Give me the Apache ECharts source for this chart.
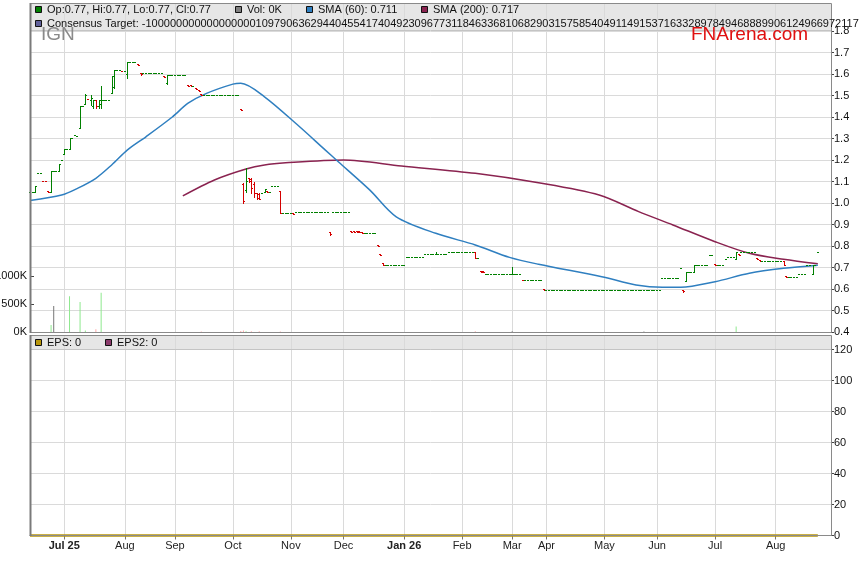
<!DOCTYPE html>
<html><head><meta charset="utf-8">
<script src="https://cdn.jsdelivr.net/npm/echarts@6/dist/echarts.min.js"></script>
<style>html,body{margin:0;padding:0;background:#fff}#c{width:859px;height:566px}</style>
</head><body><div id="c"></div>
<script>
// ---------- DATA ----------
const monthIdx = [13,36,55,77,99,119,142,164,183,196,218,238,260,283];
const monthLabels = ['Jul 25','Aug','Sep','Oct','Nov','Dec','Jan 26','Feb','Mar','Apr','May','Jun','Jul','Aug'];
const categoryCount = 305;

// daily closes (trading-day index 0..299)
const closes = [
 1.05,1.05,1.08,1.14,1.14,1.10,1.10,1.05,1.15,1.15,
 1.15,1.18,1.20,1.25,1.25,1.30,1.30,1.315,1.31,1.45,
 1.45,1.50,1.482,1.49,1.48,1.45,1.48,1.48,1.48,1.48,
 1.48,1.59,1.62,1.62,1.62,1.612,1.612,1.656,1.656,1.656,
 1.656,1.642,1.60,1.603,1.603,1.603,1.603,1.603,1.603,1.603,
 1.603,1.587,1.595,1.595,1.595,1.595,1.595,1.595,1.595,1.595,
 1.544,1.544,1.544,1.53,1.52,1.502,1.502,1.502,1.502,1.502,
 1.502,1.502,1.502,1.502,1.502,1.502,1.502,1.502,1.502,1.502,
 1.431,1.01,1.10,1.10,1.071,1.045,1.025,1.02,1.045,1.064,
 1.05,1.05,1.078,1.078,1.078,0.952,0.952,0.952,0.952,0.955,
 0.95,0.957,0.957,0.957,0.957,0.957,0.957,0.957,0.957,0.957,
 0.957,0.957,0.957,0.957,0.855,0.957,0.957,0.957,0.957,0.957,
 0.957,0.957,0.865,0.865,0.865,0.865,0.86,0.86,0.86,0.86,
 0.86,0.86,0.80,0.757,0.71,0.71,0.71,0.71,0.71,0.71,
 0.71,0.71,0.71,0.747,0.747,0.747,0.747,0.747,0.747,0.747,
 0.761,0.761,0.761,0.761,0.761,0.761,0.761,0.761,0.761,0.772,
 0.772,0.772,0.772,0.772,0.772,0.772,0.772,0.772,0.772,0.746,
 0.746,0.679,0.679,0.668,0.668,0.668,0.668,0.668,0.668,0.668,
 0.668,0.668,0.668,0.668,0.668,0.668,0.668,0.64,0.64,0.64,
 0.64,0.64,0.64,0.64,0.64,0.595,0.595,0.595,0.595,0.595,
 0.595,0.595,0.595,0.595,0.595,0.595,0.595,0.595,0.595,0.595,
 0.595,0.595,0.595,0.595,0.595,0.595,0.595,0.595,0.595,0.595,
 0.595,0.595,0.595,0.595,0.595,0.595,0.595,0.595,0.595,0.595,
 0.595,0.595,0.595,0.595,0.595,0.595,0.595,0.595,0.595,0.595,
 0.65,0.65,0.65,0.65,0.65,0.65,0.65,0.70,0.59,0.68,
 0.68,0.68,0.71,0.71,0.71,0.71,0.71,0.71,0.76,0.76,
 0.71,0.71,0.71,0.71,0.74,0.747,0.747,0.747,0.77,0.76,
 0.77,0.77,0.77,0.77,0.77,0.77,0.74,0.73,0.73,0.73,
 0.73,0.73,0.73,0.73,0.73,0.73,0.712,0.658,0.658,0.658,
 0.658,0.658,0.668,0.668,0.668,0.71,0.71,0.71,0.71,0.77
];

// days whose open/high/low differ from the close: [index, open, high, low]
const barRanges = [
 [2,1.05,1.08,1.05],[5,1.104,1.104,1.10],[6,1.104,1.104,1.10],[7,1.054,1.054,1.05],
 [8,1.05,1.15,1.05],[11,1.15,1.18,1.15],[13,1.23,1.25,1.23],[15,1.25,1.30,1.25],
 [19,1.35,1.45,1.35],[21,1.46,1.507,1.459],[22,1.486,1.486,1.482],[23,1.48,1.50,1.456],
 [24,1.45,1.48,1.44],[25,1.48,1.48,1.44],[26,1.45,1.48,1.44],[27,1.46,1.544,1.44],
 [31,1.51,1.592,1.51],[32,1.54,1.62,1.533],[35,1.616,1.616,1.612],[37,1.60,1.656,1.58],
 [41,1.646,1.646,1.642],[42,1.606,1.606,1.594],[51,1.591,1.591,1.587],[52,1.56,1.595,1.552],
 [60,1.548,1.548,1.544],[61,1.548,1.548,1.544],[63,1.534,1.534,1.53],[64,1.524,1.524,1.52],
 [65,1.506,1.506,1.502],[80,1.435,1.435,1.431],[81,1.09,1.091,0.998],[82,1.06,1.161,1.053],
 [83,1.118,1.118,1.099],[84,1.11,1.118,1.045],[85,1.09,1.099,1.027],[86,1.045,1.045,1.017],
 [87,1.04,1.045,1.017],[89,1.05,1.064,1.05],[90,1.054,1.054,1.05],[95,1.056,1.056,0.952],
 [100,0.954,0.954,0.95],[114,0.865,0.865,0.85],[122,0.869,0.869,0.865],[123,0.869,0.869,0.865],
 [124,0.869,0.869,0.865],[125,0.869,0.869,0.865],[126,0.864,0.864,0.86],[132,0.804,0.804,0.80],
 [133,0.761,0.761,0.757],[134,0.72,0.72,0.71],[154,0.761,0.772,0.761],[169,0.772,0.772,0.746],
 [171,0.683,0.683,0.679],[172,0.683,0.683,0.679],[183,0.668,0.704,0.668],[187,0.644,0.644,0.64],
 [195,0.599,0.599,0.595],[248,0.594,0.594,0.587],[249,0.637,0.68,0.637],[252,0.68,0.71,0.68],
 [260,0.714,0.714,0.71],[268,0.74,0.77,0.74],[269,0.764,0.764,0.76],[276,0.744,0.744,0.74],
 [277,0.734,0.734,0.73],[286,0.73,0.73,0.712],[287,0.662,0.662,0.658],[297,0.67,0.71,0.67]
];

// traded volume in thousands: [index, K]
const volumes = [
 [8,125],[9,464],[15,640],[19,535],[21,25],[25,50],[27,700],[65,10],[80,20],[81,25],
 [82,15],[84,12],[87,12],[95,10],[169,15],[183,12],[233,8],[268,100]
];

const sma60 = [
 [0,1.012],[12,1.037],[18,1.068],[25,1.115],[31,1.177],[37,1.247],[44,1.308],[54,1.40],
 [60,1.464],[67,1.51],[77,1.553],[80,1.557],[89,1.494],[102,1.358],[112,1.247],[117,1.192],
 [129,1.06],[139,0.936],[154,0.859],[169,0.805],[182,0.747],[193,0.715],[217,0.657],
 [230,0.619],[240,0.608],[247,0.608],[260,0.634],[273,0.673],[286,0.696],[299,0.711]
];
const sma200 = [
 [58,1.033],[70,1.107],[82,1.158],[89,1.177],[97,1.187],[119,1.20],[141,1.172],[169,1.138],
 [193,1.094],[216,1.037],[231,0.96],[244,0.898],[260,0.82],[273,0.766],[286,0.738],[299,0.717]
];
const epsPoints = [[0,0],[299,0]];
const eps2Points = [[0,0],[299,0]];
const lastVolumeK = 0;
const consensusText = '-100000000000000000109790636294404554174049230967731184633681068290315758540491149153716332897849468889906124966972117 2';

// ---------- BUILD ----------
const FONT = '"Liberation Sans", Arial, sans-serif';
const GREEN = '#008000', RED = '#d40000';
const C = {op:'#008000', vol:'#808080', sma60:'#2f7fc0', sma200:'#8a2350', cons:'#60609a', eps:'#b8960b', eps2:'#8b3a6b'};

const ohlc = closes.map((c, i) => [i, c, c, c, c]);
barRanges.forEach(([i, o, h, l]) => { ohlc[i] = [i, o, h, l, closes[i]]; });

const cats = Array.from({length: categoryCount}, (_, i) => 'c' + i);
const labelOf = {};
monthIdx.forEach((m, k) => { labelOf['c' + m] = monthLabels[k]; });
const monthSet = new Set(monthIdx);
const isMonth = (index) => monthSet.has(index);

const volData = volumes.map(([i, v]) => {
  const b = ohlc[i];
  const col = b[4] > b[1] ? '#8ee88e' : (b[4] < b[1] ? '#ffa8a8' : '#777777');
  return {value: [i, v * 1000], itemStyle: {color: col}};
});

function xAxisFor(gridIndex, showLabels) {
  return {
    type: 'category', gridIndex, data: cats, boundaryGap: false,
    axisLine: {show: showLabels, lineStyle: {color: '#888'}},
    axisTick: {show: showLabels, interval: isMonth, length: 4, lineStyle: {color: '#777'}},
    axisLabel: {
      show: showLabels, interval: isMonth, color: '#222', fontSize: 11, fontFamily: FONT, margin: 5,
      formatter: (v) => { const t = labelOf[v] || ''; return /\d/.test(t) ? '{b|' + t + '}' : t; },
      rich: {b: {fontWeight: 'bold', fontSize: 11, fontFamily: FONT, color: '#222'}}
    },
    splitLine: {show: gridIndex !== 2, interval: isMonth, lineStyle: {color: '#dadada', width: 1}}
  };
}
const axisLabelStyle = {color: '#111', fontSize: 11, fontFamily: FONT};

function renderOHLC(params, api) {
  const i = api.value(0), o = api.value(1), h = api.value(2), l = api.value(3), c = api.value(4);
  const pO = api.coord([i, o]), pH = api.coord([i, h]), pL = api.coord([i, l]), pC = api.coord([i, c]);
  const cx = Math.round(pO[0]);
  const col = c < o ? RED : GREEN;
  const style = {stroke: col, lineWidth: 1};
  const yO = Math.round(pO[1]) + 0.5, yC = Math.round(pC[1]) + 0.5;
  const yH = Math.round(pH[1]), yL = Math.round(pL[1]) + 1;
  const children = [];
  if (yL - yH > 1.5) {
    children.push({type: 'line', shape: {x1: cx + 0.5, y1: yH, x2: cx + 0.5, y2: yL}, style});
    children.push({type: 'line', shape: {x1: cx - 1, y1: yO, x2: cx, y2: yO}, style});
    children.push({type: 'line', shape: {x1: cx + 1, y1: yC, x2: cx + 2, y2: yC}, style});
  } else {
    children.push({type: 'line', shape: {x1: cx - 1, y1: yO, x2: cx, y2: yO}, style});
    children.push({type: 'line', shape: {x1: cx, y1: yC, x2: cx + 1, y2: yC}, style});
  }
  return {type: 'group', children};
}

const last = ohlc[ohlc.length - 1];
const f2 = v => v.toFixed(2);
const row1 = [
  {x: 35.5, color: C.op, text: 'Op:' + f2(last[1]) + ', Hi:' + f2(last[2]) + ', Lo:' + f2(last[3]) + ', Cl:' + f2(last[4]), tx: 47},
  {x: 235.5, color: C.vol, text: 'Vol: ' + lastVolumeK + 'K', tx: 247},
  {x: 306.5, color: C.sma60, text: 'SMA (60): ' + sma60[sma60.length - 1][1].toFixed(3), tx: 318},
  {x: 421.5, color: C.sma200, text: 'SMA (200): ' + sma200[sma200.length - 1][1].toFixed(3), tx: 433}
];
const graphics = [];
function legendItem(x, y, color, text, tx) {
  graphics.push({type: 'rect', z: 110, shape: {x: x, y: y, width: 6, height: 6}, style: {fill: color, stroke: '#111', lineWidth: 1}});
  graphics.push({type: 'text', z: 110, x: tx, y: y + 3.5, style: {text, fill: '#111', font: '11px ' + FONT, verticalAlign: 'middle'}});
}
row1.forEach(r => legendItem(r.x, 6.5, r.color, r.text, r.tx));
legendItem(35.5, 20.5, C.cons, 'Consensus Target: ' + consensusText, 47);
legendItem(35.5, 339.5, C.eps, 'EPS: ' + epsPoints[epsPoints.length - 1][1], 47);
legendItem(105.5, 339.5, C.eps2, 'EPS2: ' + eps2Points[eps2Points.length - 1][1], 117);
graphics.push({type: 'text', z: 105, x: 41, y: 35, style: {text: 'IGN', fill: '#8a8a8a', font: '19px ' + FONT, verticalAlign: 'middle'}});
graphics.push({type: 'text', z: 105, x: 691, y: 35, style: {text: 'FNArena.com', fill: '#e01010', font: '19px ' + FONT, verticalAlign: 'middle'}});
graphics.push({type: 'line', z: 100, shape: {x1: 30, y1: 30.5, x2: 831, y2: 30.5}, style: {stroke: '#c4c4c4', lineWidth: 1}});
graphics.push({type: 'line', z: 100, shape: {x1: 30, y1: 349.5, x2: 831, y2: 349.5}, style: {stroke: '#c4c4c4', lineWidth: 1}});
graphics.push({type: 'rect', z: 100, shape: {x: 30.5, y: 3.5, width: 801, height: 329}, style: {fill: 'none', stroke: '#8a8a8a', lineWidth: 1}});
graphics.push({type: 'line', z: 100, shape: {x1: 30.5, y1: 3, x2: 30.5, y2: 333}, style: {stroke: '#7a7a7a', lineWidth: 2}});
graphics.push({type: 'rect', z: 100, shape: {x: 30.5, y: 335.5, width: 801, height: 200}, style: {fill: 'none', stroke: '#8a8a8a', lineWidth: 1}});
graphics.push({type: 'line', z: 100, shape: {x1: 30.5, y1: 335, x2: 30.5, y2: 536}, style: {stroke: '#7a7a7a', lineWidth: 2}});

const gridBase = {left: 30, right: 28, containLabel: false, outerBoundsMode: 'none'};
const option = {
  animation: false,
  backgroundColor: '#ffffff',
  grid: [
    Object.assign({top: 3, height: 27, show: true, backgroundColor: '#e6e6e6', borderWidth: 0}, gridBase),
    Object.assign({top: 31, height: 301}, gridBase),
    Object.assign({top: 276, height: 56}, gridBase),
    Object.assign({top: 335, height: 14, show: true, backgroundColor: '#e6e6e6', borderWidth: 0}, gridBase),
    Object.assign({top: 349.5, height: 186}, gridBase)
  ],
  xAxis: [xAxisFor(0, false), xAxisFor(1, false), xAxisFor(2, false), xAxisFor(3, false), xAxisFor(4, true)],
  yAxis: [
    {type: 'value', gridIndex: 0, show: false, min: 0, max: 1},
    {type: 'value', gridIndex: 1, position: 'right', min: 0.4, max: 1.8, interval: 0.1,
     axisLine: {show: true, lineStyle: {color: '#888'}}, axisTick: {show: true, length: 3, lineStyle: {color: '#444'}},
     axisLabel: Object.assign({margin: 3, formatter: v => v.toFixed(1)}, axisLabelStyle),
     splitLine: {show: true, lineStyle: {color: '#dadada'}}},
    {type: 'value', gridIndex: 2, position: 'left', min: 0, max: 1000000, interval: 500000,
     axisLine: {show: false}, axisTick: {show: true, inside: true, length: 4, lineStyle: {color: '#444'}},
     axisLabel: Object.assign({margin: 3, align: 'right', formatter: v => (v / 1000) + 'K'}, axisLabelStyle),
     splitLine: {show: false}},
    {type: 'value', gridIndex: 3, show: false, min: 0, max: 1},
    {type: 'value', gridIndex: 4, position: 'right', min: 0, max: 120, interval: 20,
     axisLine: {show: true, lineStyle: {color: '#888'}}, axisTick: {show: true, length: 3, lineStyle: {color: '#444'}},
     axisLabel: Object.assign({margin: 3}, axisLabelStyle),
     splitLine: {show: true, lineStyle: {color: '#dadada'}}}
  ],
  series: [
    {type: 'line', name: 'SMA (200)', xAxisIndex: 1, yAxisIndex: 1, data: sma200, smooth: 0.3, showSymbol: false,
     lineStyle: {color: C.sma200, width: 1.5}, z: 2},
    {type: 'line', name: 'SMA (60)', xAxisIndex: 1, yAxisIndex: 1, data: sma60, smooth: 0.3, showSymbol: false,
     lineStyle: {color: C.sma60, width: 1.5}, z: 2},
    {type: 'custom', name: 'Price', xAxisIndex: 1, yAxisIndex: 1, data: ohlc, renderItem: renderOHLC,
     encode: {x: 0, y: [1, 2, 3, 4]}, z: 3},
    {type: 'bar', name: 'Vol', xAxisIndex: 2, yAxisIndex: 2, data: volData, barWidth: 1, z: 2},
    {type: 'line', name: 'EPS2', xAxisIndex: 4, yAxisIndex: 4, data: eps2Points, showSymbol: false, clip: false,
     lineStyle: {color: C.eps2, width: 1}, z: 4},
    {type: 'line', name: 'EPS', xAxisIndex: 4, yAxisIndex: 4, data: epsPoints, showSymbol: false, clip: false,
     lineStyle: {color: C.eps, width: 2.5}, z: 5}
  ],
  graphic: graphics
};
const chart = echarts.init(document.getElementById('c'), null, {renderer: 'canvas'});
chart.setOption(option);
</script>
</body></html>
